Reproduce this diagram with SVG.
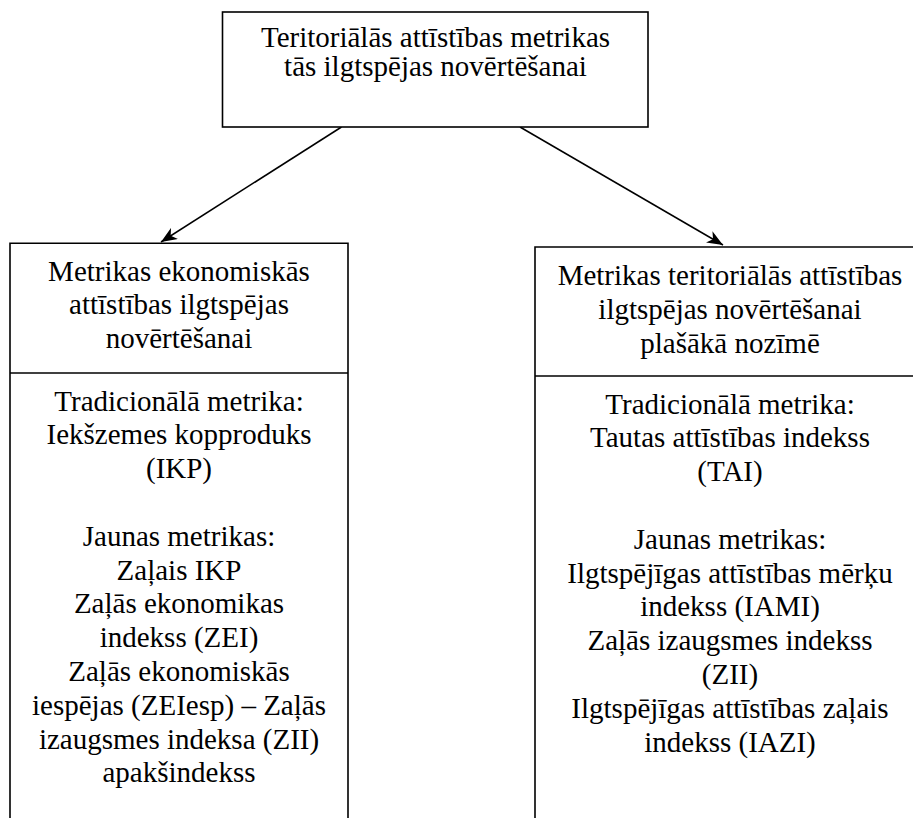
<svg xmlns="http://www.w3.org/2000/svg" width="913" height="818" viewBox="0 0 913 818">
  <style>
    .box { fill: #fff; stroke: #000; stroke-width: 1.6; }
    .div { stroke: #000; stroke-width: 1.6; fill: none; }
    .t { font-size: 29px; fill: #000; text-anchor: middle; }
    .conn { stroke: #000; stroke-width: 1.5; fill: none; marker-end: url(#arr); }
  </style>
  <defs>
    <marker id="arr" markerUnits="userSpaceOnUse" markerWidth="17" markerHeight="13" refX="16" refY="6.5" orient="auto">
      <path d="M0,0 L16,6.5 L0,13 L4.5,6.5 z" fill="#000"/>
    </marker>
  </defs>
  <rect width="913" height="818" fill="#fff"/>

  <g id="connectors">
    <line class="conn" x1="341.5" y1="127" x2="161" y2="242"/>
    <line class="conn" x1="520" y1="127" x2="723" y2="245"/>
  </g>

  <g font-family="'Liberation Serif', 'Times New Roman', 'DejaVu Serif', serif">
  <g id="root">
    <rect class="box" x="222.5" y="12" width="425.5" height="115"/>
    <text class="t" x="435.5" y="47">Teritoriālās attīstības metrikas</text>
    <text class="t" x="435.5" y="76">tās ilgtspējas novērtēšanai</text>
  </g>

  <g id="left">
    <path class="div" d="M10,819 V243.3 H348 V819"/>
    <line class="div" x1="10" y1="373" x2="348" y2="373"/>
    <text class="t" x="179" y="280.5">Metrikas ekonomiskās</text>
    <text class="t" x="179" y="314.3">attīstības ilgtspējas</text>
    <text class="t" x="179" y="348.1">novērtēšanai</text>
    <text class="t" x="179" y="410.5">Tradicionālā metrika:</text>
    <text class="t" x="179" y="444.3">Iekšzemes kopproduks</text>
    <text class="t" x="179" y="478.1">(IKP)</text>
    <text class="t" x="179" y="545.7">Jaunas metrikas:</text>
    <text class="t" x="179" y="579.5">Zaļais IKP</text>
    <text class="t" x="179" y="613.3">Zaļās ekonomikas</text>
    <text class="t" x="179" y="647.1">indekss (ZEI)</text>
    <text class="t" x="179" y="680.9">Zaļās ekonomiskās</text>
    <text class="t" x="179" y="714.7">iespējas (ZEIesp) – Zaļās</text>
    <text class="t" x="179" y="748.5">izaugsmes indeksa (ZII)</text>
    <text class="t" x="179" y="782.3">apakšindekss</text>
  </g>

  <g id="right">
    <path class="div" d="M535,819 V247 H930"/>
    <line class="div" x1="535" y1="376" x2="930" y2="376"/>
    <text class="t" x="730" y="285">Metrikas teritoriālās attīstības</text>
    <text class="t" x="730" y="318.8">ilgtspējas novērtēšanai</text>
    <text class="t" x="730" y="352.6">plašākā nozīmē</text>
    <text class="t" x="730" y="413.5">Tradicionālā metrika:</text>
    <text class="t" x="730" y="447.3">Tautas attīstības indekss</text>
    <text class="t" x="730" y="481.1">(TAI)</text>
    <text class="t" x="730" y="548.7">Jaunas metrikas:</text>
    <text class="t" x="730" y="582.5">Ilgtspējīgas attīstības mērķu</text>
    <text class="t" x="730" y="616.3">indekss (IAMI)</text>
    <text class="t" x="730" y="650.1">Zaļās izaugsmes indekss</text>
    <text class="t" x="730" y="683.9">(ZII)</text>
    <text class="t" x="730" y="717.7">Ilgtspējīgas attīstības zaļais</text>
    <text class="t" x="730" y="751.5">indekss (IAZI)</text>
  </g>
  </g>
</svg>
